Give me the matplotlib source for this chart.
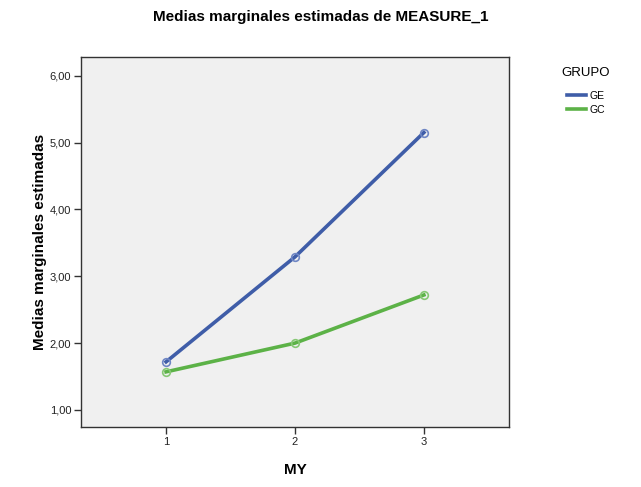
import matplotlib.pyplot as plt
from matplotlib.lines import Line2D

# datos
niveles = [1, 2, 3]
medias_ge = [1.72, 3.29, 5.15]
medias_gc = [1.57, 2.00, 2.72]
ticks_y = [1, 2, 3, 4, 5, 6]
etiquetas_y = ['1,00', '2,00', '3,00', '4,00', '5,00', '6,00']

color_ge = '#3f5da8'
color_gc = '#5cb247'

plt.rcParams['font.family'] = ['Liberation Sans', 'DejaVu Sans']

fig = plt.figure(figsize=(6.41, 4.87), dpi=100)
ax = fig.add_axes([0.1264, 0.1232, 0.6676, 0.7598])
ax.set_facecolor('#f0f0f0')

ax.plot(niveles, medias_ge, color=color_ge, lw=2.6, marker='o', ms=5.5,
        mfc='none', mec='#6f86c4', mew=1.2)
ax.plot(niveles, medias_gc, color=color_gc, lw=2.6, marker='o', ms=5.5,
        mfc='none', mec='#86c874', mew=1.2)

ax.set_xlim(0.34, 3.66)
ax.set_ylim(0.745, 6.28)
ax.set_xticks(niveles)
ax.set_xticklabels([str(n) for n in niveles], fontsize=8)
ax.set_yticks(ticks_y)
ax.set_yticklabels(etiquetas_y, fontsize=8)
ax.tick_params(direction='out', length=5, width=1, color='#333333', labelcolor='#222222', pad=2)
for s in ax.spines.values():
    s.set_color('#333333')
    s.set_linewidth(1)

ax.set_xlabel('MY', fontsize=11, fontweight='bold', labelpad=12)
ax.set_ylabel('Medias marginales estimadas', fontsize=11, fontweight='bold', labelpad=2)
fig.text(0.5, 0.966, 'Medias marginales estimadas de MEASURE_1', ha='center', va='center',
         fontsize=11, fontweight='bold')

# leyenda
handles = [Line2D([], [], color=color_ge, lw=2.6), Line2D([], [], color=color_gc, lw=2.6)]
leg = fig.legend(handles, ['GE', 'GC'], title='GRUPO', loc='upper left',
                 bbox_to_anchor=(0.870, 0.872), frameon=False, fontsize=7.5,
                 title_fontsize=9.5, handlelength=1.8, handletextpad=0.3,
                 labelspacing=0.35, borderaxespad=0)
leg._legend_box.sep = 9

fig.savefig('out.png', dpi=100)
